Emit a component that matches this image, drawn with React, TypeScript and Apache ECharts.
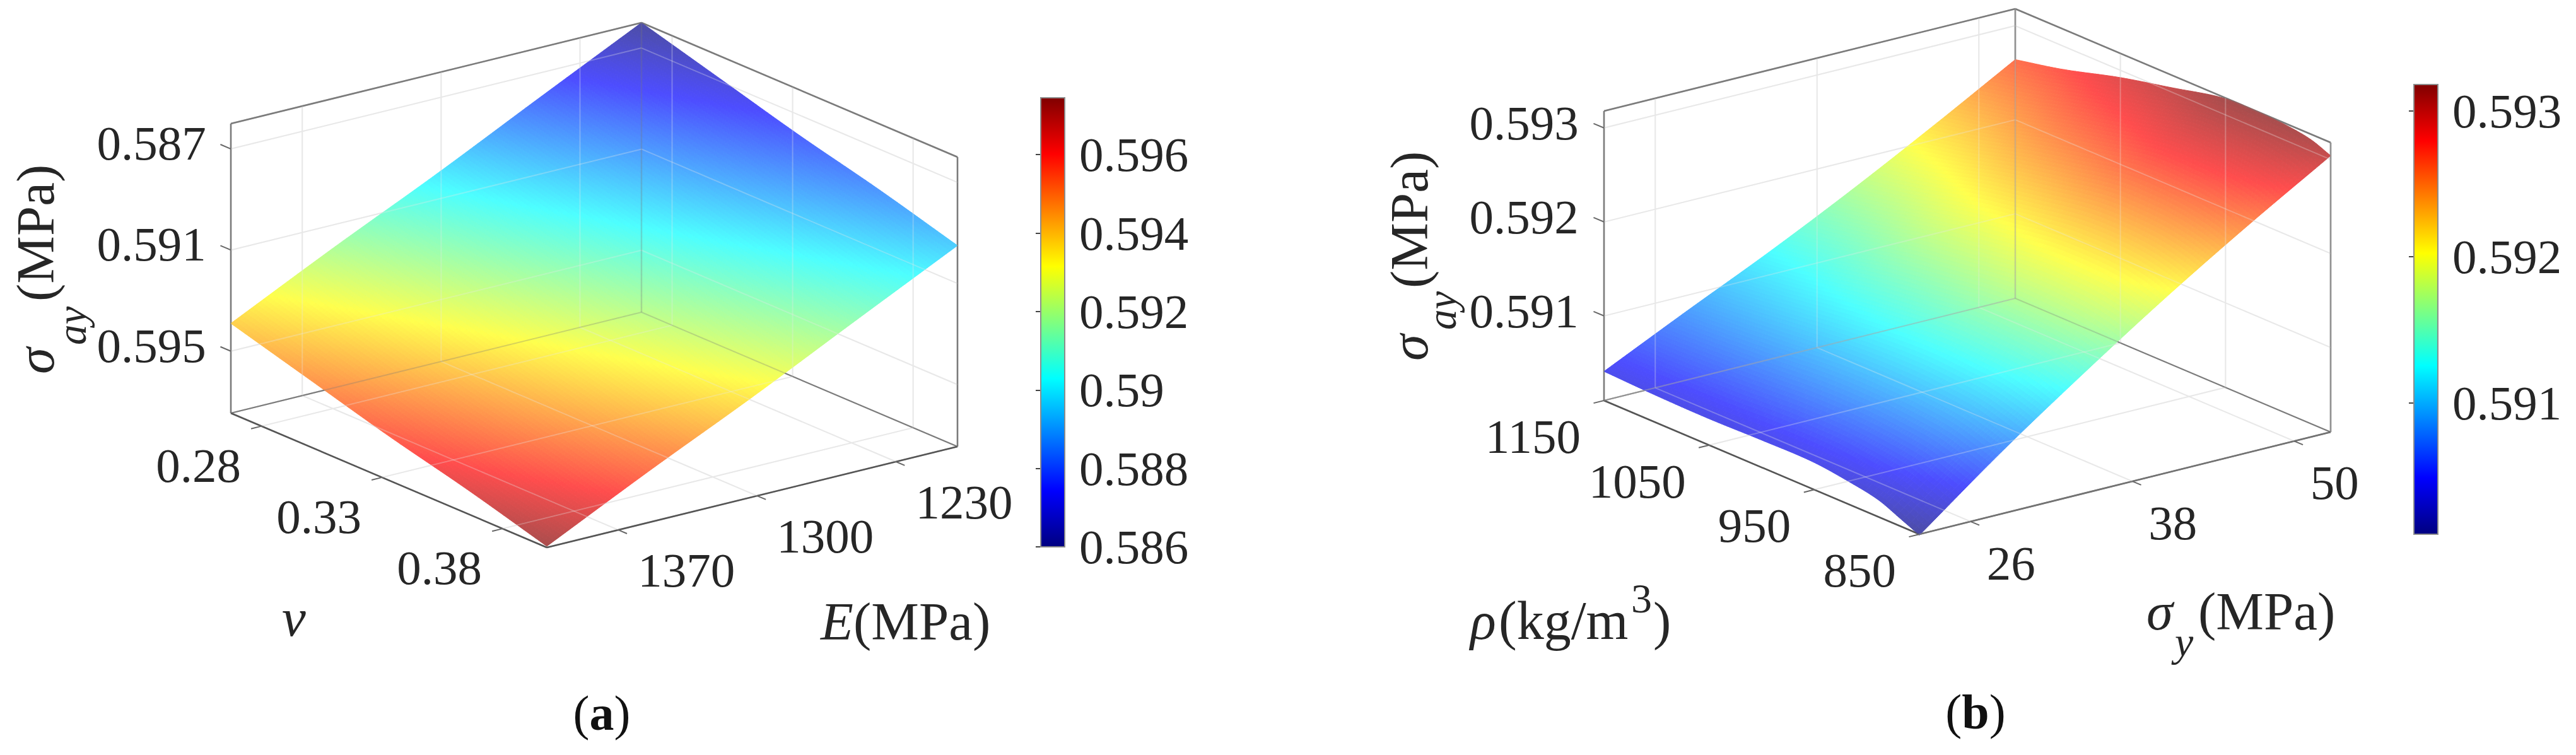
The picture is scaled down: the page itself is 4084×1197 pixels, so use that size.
import React, { useEffect, useRef } from "react";
import * as echarts from "echarts";

// ---------- Data ----------
const nuValues = [0.3984, 0.3656, 0.3329, 0.3001, 0.2673];
const eValues = [1406, 1354, 1302.5, 1251, 1199];
const surfaceARow0 = [0.5974, 0.5954, 0.5935, 0.5915, 0.5895];
const surfaceARow1 = [0.5965, 0.5945, 0.5926, 0.5906, 0.5886];
const surfaceARow2 = [0.5957, 0.5937, 0.5917, 0.5897, 0.5878];
const surfaceARow3 = [0.5948, 0.5928, 0.5908, 0.5889, 0.5869];
const surfaceARow4 = [0.5939, 0.5919, 0.59, 0.588, 0.586];
const surfaceA = [surfaceARow0, surfaceARow1, surfaceARow2, surfaceARow3, surfaceARow4];

const rhoValues = [850, 868, 889, 916, 952, 1000, 1051, 1105, 1150];
const sigmaValues = [22.2, 28.3, 34.4, 40.5, 46.6, 52.7];
const surfaceBRow0 = [0.59009, 0.59076, 0.59138, 0.59197, 0.59252, 0.59304];
const surfaceBRow1 = [0.59018, 0.59083, 0.59145, 0.59204, 0.59259, 0.59312];
const surfaceBRow2 = [0.59028, 0.5909, 0.5915, 0.59209, 0.59264, 0.59316];
const surfaceBRow3 = [0.59034, 0.59094, 0.59153, 0.59211, 0.59267, 0.59318];
const surfaceBRow4 = [0.59039, 0.59097, 0.59155, 0.5921, 0.59267, 0.59317];
const surfaceBRow5 = [0.59039, 0.59097, 0.59149, 0.59202, 0.59256, 0.59305];
const surfaceBRow6 = [0.59038, 0.59092, 0.59142, 0.59192, 0.59243, 0.59292];
const surfaceBRow7 = [0.59039, 0.59087, 0.59131, 0.59177, 0.59226, 0.59275];
const surfaceBRow8 = [0.59041, 0.59083, 0.59124, 0.59168, 0.59215, 0.59264];
const surfaceB = [
  surfaceBRow0, surfaceBRow1, surfaceBRow2, surfaceBRow3, surfaceBRow4,
  surfaceBRow5, surfaceBRow6, surfaceBRow7, surfaceBRow8,
];

const nuTicks = [0.28, 0.33, 0.38];
const eTicks = [1370, 1300, 1230];
const zTicksA = [0.587, 0.591, 0.595];
const rhoTicks = [1150, 1050, 950, 850];
const sigmaTicks = [26, 38, 50];
const zTicksB = [0.591, 0.592, 0.593];
const colorTicksA = [0.586, 0.588, 0.59, 0.592, 0.594, 0.596];
const colorTicksB = [0.591, 0.592, 0.593];

const jetStops = [
  { offset: 0, rgb: [0, 0, 128] },
  { offset: 0.125, rgb: [0, 0, 255] },
  { offset: 0.375, rgb: [0, 255, 255] },
  { offset: 0.625, rgb: [255, 255, 0] },
  { offset: 0.875, rgb: [255, 0, 0] },
  { offset: 1, rgb: [128, 0, 0] },
];

// ---------- Style and layout ----------
const FONT = "Liberation Serif";
const INK = "#262626";
const TICK_SIZE = 77;
const FACE_ALPHA = 0.7;
const MESH = 110;
const BOX = "#7c7c7c";
const AXIS = "#555555";
const GRID = "#e9e9e9";

type P = number[];
const panelA = {
  grid: { left: 300, top: 0, width: 1300, height: 900 },
  bottom: [867, 868], left: [366, 655], right: [1518, 708], height: 459,
  sAt0: 1406, sAt1: 1199, rAt0: 0.3984, rAt1: 0.2673, zAt0: 0.59745, zAt1: 0.586,
  cMin: 0.586, cMax: 0.59745,
  rows: nuValues, cols: eValues, z: surfaceA,
  rTicks: nuTicks, sTicks: eTicks, zTicks: zTicksA,
  zOffset: [-126, -9], zAlign: "center",
  rOffset: [-100, 62], rAlign: "center",
  sOffset: [108, 64],
};
const panelB = {
  grid: { left: 2480, top: 0, width: 1300, height: 900 },
  bottom: [3043, 847], left: [2543, 635], right: [3695, 685], height: 459,
  sAt0: 22.2, sAt1: 52.7, rAt0: 850, rAt1: 1150, zAt0: 0.5901, zAt1: 0.59318,
  cMin: 0.5901, cMax: 0.59318,
  rows: rhoValues, cols: sigmaValues, z: surfaceB,
  rTicks: rhoTicks, sTicks: sigmaTicks, zTicks: zTicksB,
  zOffset: [-127, -8], zAlign: "center",
  rOffset: [-37, 57], rAlign: "right",
  sOffset: [64, 66],
};
type Panel = typeof panelA;

const project = (p: Panel, s: number, r: number, f: number): P => [
  p.bottom[0] + s * (p.right[0] - p.bottom[0]) + r * (p.left[0] - p.bottom[0]),
  p.bottom[1] + s * (p.right[1] - p.bottom[1]) + r * (p.left[1] - p.bottom[1]) - f * p.height,
];
const sOf = (p: Panel, v: number) => (v - p.sAt0) / (p.sAt1 - p.sAt0);
const rOf = (p: Panel, v: number) => (v - p.rAt0) / (p.rAt1 - p.rAt0);
const zOf = (p: Panel, v: number) => (v - p.zAt0) / (p.zAt1 - p.zAt0);

const jet = (t: number) => {
  const c = Math.min(1, Math.max(0, t));
  for (let i = 1; i < jetStops.length; i++) {
    if (c <= jetStops[i].offset) {
      const a = jetStops[i - 1];
      const b = jetStops[i];
      const u = (c - a.offset) / (b.offset - a.offset);
      return a.rgb.map((v, k) => v + (b.rgb[k] - v) * u);
    }
  }
  return jetStops[jetStops.length - 1].rgb;
};
const faceColor = (t: number) => {
  const [r, g, b] = jet(t).map((v) => Math.round(v * FACE_ALPHA + 255 * (1 - FACE_ALPHA)));
  return `rgb(${r},${g},${b})`;
};

// Smooth drawing of the read grid (cubic Hermite through the read values).
const hermite = (xs: number[], ys: number[], x: number) => {
  const n = xs.length;
  let i = 0;
  while (i < n - 2 && x > xs[i + 1]) i++;
  const tan = (k: number) => {
    const a = Math.max(0, k - 1);
    const b = Math.min(n - 1, k + 1);
    return (ys[b] - ys[a]) / (xs[b] - xs[a]);
  };
  const h = xs[i + 1] - xs[i];
  const t = (x - xs[i]) / h;
  const t2 = t * t;
  const t3 = t2 * t;
  return (
    (2 * t3 - 3 * t2 + 1) * ys[i] +
    (t3 - 2 * t2 + t) * h * tan(i) +
    (-2 * t3 + 3 * t2) * ys[i + 1] +
    (t3 - t2) * h * tan(i + 1)
  );
};

const buildMesh = (p: Panel) => {
  const rowFrac = p.rows.map((v) => rOf(p, v));
  const colFrac = p.cols.map((v) => sOf(p, v));
  const mesh: number[][] = [];
  for (let a = 0; a <= MESH; a++) {
    const s = a / MESH;
    const across = p.z.map((row) => hermite(colFrac, row, s));
    const line: number[] = [];
    for (let b = 0; b <= MESH; b++) line.push(hermite(rowFrac, across, b / MESH));
    mesh.push(line);
  }
  return mesh;
};

const surfaceRender = (p: Panel) => {
  const mesh = buildMesh(p);
  return (_: any, api: any) => {
    const children: any[] = [];
    const pt = (a: number, b: number) =>
      api.coord(project(p, a / MESH, b / MESH, zOf(p, mesh[a][b])));
    for (let a = 0; a < MESH; a++) {
      for (let b = 0; b < MESH; b++) {
        const avg = (mesh[a][b] + mesh[a + 1][b] + mesh[a][b + 1] + mesh[a + 1][b + 1]) / 4;
        const color = faceColor((avg - p.cMin) / (p.cMax - p.cMin));
        children.push({
          type: "polygon",
          shape: { points: [pt(a, b), pt(a + 1, b), pt(a + 1, b + 1), pt(a, b + 1)] },
          style: { fill: color, stroke: color, lineWidth: 1 },
          silent: true,
        });
      }
    }
    return { type: "group", children };
  };
};

const wireRender = (p: Panel, overlay: boolean) => (_: any, api: any) => {
  const children: any[] = [];
  const opacity = overlay ? 1 - FACE_ALPHA : 1;
  const seg = (a: P, b: P, stroke: string, lineWidth: number) => {
    const [x1, y1] = api.coord(project(p, a[0], a[1], a[2]));
    const [x2, y2] = api.coord(project(p, b[0], b[1], b[2]));
    children.push({
      type: "line",
      shape: { x1, y1, x2, y2 },
      style: { stroke, lineWidth, opacity },
      silent: true,
    });
  };
  p.zTicks.forEach((v) => {
    const f = zOf(p, v);
    seg([0, 1, f], [1, 1, f], GRID, 2);
    seg([1, 1, f], [1, 0, f], GRID, 2);
  });
  p.rTicks.forEach((v) => {
    const r = rOf(p, v);
    seg([0, r, 0], [1, r, 0], GRID, 2);
    seg([1, r, 0], [1, r, 1], GRID, 2);
  });
  p.sTicks.forEach((v) => {
    const s = sOf(p, v);
    seg([s, 0, 0], [s, 1, 0], GRID, 2);
    seg([s, 1, 0], [s, 1, 1], GRID, 2);
  });
  seg([0, 1, 1], [1, 1, 1], BOX, 2.5);
  seg([1, 1, 1], [1, 0, 1], BOX, 2.5);
  seg([0, 1, 0], [0, 1, 1], BOX, 2.5);
  seg([1, 1, 0], [1, 1, 1], BOX, 2.5);
  seg([1, 0, 0], [1, 0, 1], BOX, 2.5);
  seg([0, 1, 0], [1, 1, 0], BOX, 2);
  seg([1, 1, 0], [1, 0, 0], BOX, 2);
  seg([0, 1, 0], [0, 0, 0], AXIS, 2.5);
  seg([0, 0, 0], [1, 0, 0], AXIS, 2.5);
  return { type: "group", children };
};

const labelRender = (p: Panel) => (_: any, api: any) => {
  const children: any[] = [];
  const norm = (a: number[], b: number[], len: number) => {
    const dx = a[0] - b[0];
    const dy = a[1] - b[1];
    const d = Math.hypot(dx, dy);
    return [(dx / d) * len, (dy / d) * len];
  };
  const zDir = norm(p.left, p.bottom, 18);
  const rDir = norm(p.bottom, p.right, 17);
  const sDir = norm(p.bottom, p.left, 15);
  const mark = (at: P, dir: number[]) => {
    const [x, y] = api.coord(at);
    children.push({
      type: "line",
      shape: { x1: x, y1: y, x2: x + dir[0], y2: y + dir[1] },
      style: { stroke: "#666666", lineWidth: 2 },
      silent: true,
    });
  };
  const text = (at: P, off: number[], label: string, align: string) => {
    const [x, y] = api.coord(at);
    children.push({
      type: "text",
      style: {
        text: label, x: x + off[0], y: y + off[1], align, verticalAlign: "middle",
        fontFamily: FONT, fontSize: TICK_SIZE, fill: INK,
      },
      silent: true,
    });
  };
  p.zTicks.forEach((v) => {
    const at = project(p, 0, 1, zOf(p, v));
    mark(at, zDir);
    text(at, p.zOffset, String(v), p.zAlign);
  });
  p.rTicks.forEach((v) => {
    const at = project(p, 0, rOf(p, v), 0);
    mark(at, rDir);
    text(at, p.rOffset, String(v), p.rAlign);
  });
  p.sTicks.forEach((v) => {
    const at = project(p, sOf(p, v), 0, 0);
    mark(at, sDir);
    text(at, p.sOffset, String(v), "center");
  });
  return { type: "group", children };
};

const colorbarRender = (cMin: number, cMax: number) => (_: any, api: any) => {
  const [x0, y0] = api.coord([0, cMax]);
  const [x1, y1] = api.coord([1, cMin]);
  const stops = jetStops.map((d) => ({ offset: d.offset, color: `rgb(${d.rgb.join(",")})` }));
  return {
    type: "rect",
    shape: { x: x0, y: y0, width: x1 - x0, height: y1 - y0 },
    style: {
      fill: new echarts.graphic.LinearGradient(0, 1, 0, 0, stops),
      stroke: "#8c8c8c",
      lineWidth: 2,
    },
    silent: true,
  };
};

// Central baseline of the font sits 0.3375em above the alphabetic baseline.
const title = (text: string, x: number, base: number, size: number, italic = false) => ({
  type: "text",
  x,
  y: base - 0.3375 * size,
  silent: true,
  style: {
    text, align: "left", verticalAlign: "middle",
    fontFamily: FONT, fontSize: size, fontStyle: italic ? "italic" : "normal", fill: INK,
  },
});
const sideTitle = (text: string, base: number, start: number, size: number, italic = false) => ({
  type: "text",
  x: base - 0.3375 * size,
  y: start,
  rotation: Math.PI / 2,
  silent: true,
  style: {
    text, align: "left", verticalAlign: "middle",
    fontFamily: FONT, fontSize: size, fontStyle: italic ? "italic" : "normal", fill: INK,
  },
});
const caption = (letter: string, x: number, y: number) => ({
  type: "text",
  x,
  y,
  silent: true,
  style: {
    text: `{r|(}{b|${letter}}{r|)}`,
    align: "center",
    verticalAlign: "middle",
    fontFamily: FONT,
    fontSize: 78,
    fill: "#111111",
    rich: {
      r: { fontFamily: FONT, fontSize: 78, fill: "#111111" },
      b: { fontFamily: FONT, fontSize: 78, fontWeight: "bold", fill: "#111111" },
    },
  },
});

const sceneAxes = (p: Panel, gridIndex: number) => ({
  x: { type: "value", gridIndex, show: false, min: p.grid.left, max: p.grid.left + p.grid.width },
  y: { type: "value", gridIndex, show: false, inverse: true, min: p.grid.top, max: p.grid.top + p.grid.height },
});

const colorAxes = (gridIndex: number, cMin: number, cMax: number, ticks: number[]) => ({
  x: { type: "value", gridIndex, show: false, min: 0, max: 1 },
  y: {
    type: "value",
    gridIndex,
    position: "right",
    min: cMin,
    max: cMax,
    splitLine: { show: false },
    axisLine: { show: false },
    axisTick: {
      show: true, inside: true, length: 8, customValues: ticks,
      lineStyle: { color: "#444444", width: 2 },
    },
    axisLabel: {
      show: true, customValues: ticks, margin: 23, color: INK,
      fontFamily: FONT, fontSize: TICK_SIZE,
      formatter: (v: number) => String(v),
    },
  },
});

const sceneSeries = (p: Panel, idx: number) => {
  const base = { type: "custom", coordinateSystem: "cartesian2d", xAxisIndex: idx, yAxisIndex: idx, clip: false, silent: true, data: [[p.grid.left, p.grid.top]] };
  return [
    { ...base, z: 2, renderItem: wireRender(p, false) },
    { ...base, z: 3, renderItem: surfaceRender(p) },
    { ...base, z: 4, renderItem: wireRender(p, true) },
    { ...base, z: 5, renderItem: labelRender(p) },
  ];
};

export default function App() {
  const ref = useRef<HTMLDivElement>(null);
  useEffect(() => {
    document.body.style.margin = "0";
    const chart = echarts.init(ref.current!, undefined, { renderer: "svg" });
    const sA = sceneAxes(panelA, 0);
    const sB = sceneAxes(panelB, 1);
    const cA = colorAxes(2, panelA.cMin, panelA.cMax, colorTicksA);
    const cB = colorAxes(3, panelB.cMin, panelB.cMax, colorTicksB);
    chart.setOption({
      animation: false,
      backgroundColor: "#ffffff",
      grid: [
        panelA.grid,
        panelB.grid,
        { left: 1650, top: 155, width: 38, height: 712 },
        { left: 3827, top: 134, width: 38, height: 713 },
      ],
      xAxis: [sA.x, sB.x, cA.x, cB.x],
      yAxis: [sA.y, sB.y, cA.y, cB.y],
      series: [
        ...sceneSeries(panelA, 0),
        ...sceneSeries(panelB, 1),
        {
          type: "custom", coordinateSystem: "cartesian2d", xAxisIndex: 2, yAxisIndex: 2, silent: true, clip: false,
          z: 1, data: [[0, panelA.cMin]], renderItem: colorbarRender(panelA.cMin, panelA.cMax),
        },
        {
          type: "custom", coordinateSystem: "cartesian2d", xAxisIndex: 3, yAxisIndex: 3, silent: true, clip: false,
          z: 1, data: [[0, panelB.cMin]], renderItem: colorbarRender(panelB.cMin, panelB.cMax),
        },
      ],
      graphic: {
        elements: [
          sideTitle("(MPa)", 85, 478, 85),
          sideTitle("σ", 85, 593, 85, true),
          sideTitle("ay", 136, 547, 65, true),
          title("ν", 447, 1008, 85, true),
          title("E", 1301, 1014, 85, true),
          title("(MPa)", 1353, 1014, 85),
          caption("a", 954, 1130),
          sideTitle("(MPa)", 2263, 457, 85),
          sideTitle("σ", 2263, 572, 85, true),
          sideTitle("ay", 2308, 523, 65, true),
          title("ρ", 2331, 1013, 85, true),
          title("(kg/m", 2376, 1013, 86),
          title("3", 2586, 971, 66),
          title(")", 2621, 1013, 85),
          title("σ", 3403, 998, 85, true),
          title("y", 3448, 1040, 66, true),
          title("(MPa)", 3485, 998, 85),
          caption("b", 3132, 1128),
        ],
      },
    });
    return () => chart.dispose();
  }, []);
  return <div ref={ref} style={{ width: 4084, height: 1197 }} />;
}
